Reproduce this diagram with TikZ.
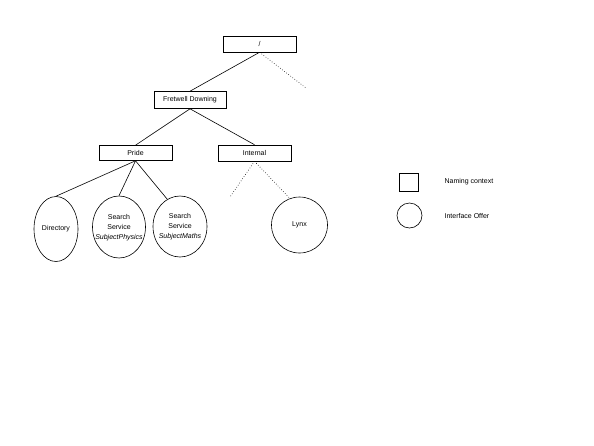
\documentclass[tikz,border=0pt]{standalone}
\usepackage{fontspec}
\setmainfont{Liberation Sans}
\usetikzlibrary{shapes.geometric, positioning}
\tikzstyle{ctx} = [rectangle, minimum width=73pt, minimum height=16pt, text centered, draw=black, font=\fontsize{7}{8}\selectfont]
\tikzstyle{offer} = [ellipse, draw=black, inner sep=0pt, font=\fontsize{7}{10}\selectfont]
\tikzstyle{link} = [line width=0.6pt]
\tikzstyle{hidden} = [line width=0.6pt, dotted]
\tikzstyle{legend} = [inner sep=0pt, anchor=west, font=\fontsize{7}{8}\selectfont]
\newcommand{\offertext}[1]{\makebox[0pt]{\begin{tabular}{@{}c@{}}#1\end{tabular}}}

\begin{document}
\begin{tikzpicture}[x=1pt, y=-1pt, line width=0.6pt]
\useasboundingbox (0,0) rectangle (594,445);
\node (root) [ctx] at (259.5,44) {/};
\node (fd) [ctx, minimum width=72pt, minimum height=17pt] at (190,100) {Fretwell Downing};
\node (pride) [ctx, minimum height=15pt] at (135.5,153) {Pride};
\node (internal) [ctx] at (254.5,153) {Internal};

\node (dir) [offer, minimum width=44pt, minimum height=65pt] at (56,229) {Directory};
\node (phys) [offer, minimum width=53pt, minimum height=62pt] at (119,227) {\offertext{Search\\Service\\\textit{SubjectPhysics}}};
\node (maths) [offer, minimum width=54pt, minimum height=61pt] at (180,226.5) {\offertext{Search\\Service\\\textit{SubjectMaths}}};
\node (lynx) [offer, minimum size=56pt] at (299.5,225) {Lynx};

\coordinate (rootmore) at (306,88);
\coordinate (intmore) at (230,197);

\draw [link] (root.south) -- (fd.north);
\draw [hidden] (root.south) -- (rootmore);
\draw [link] (fd.south) -- (pride.north);
\draw [link] (fd.south) -- (internal.north);
\draw [link] (pride.south) -- (dir.north);
\draw [link] (pride.south) -- (phys.north);
\draw [link] (pride.south) -- (maths.115);
\draw [hidden] (internal.south) -- (intmore);
\draw [hidden] (internal.south) -- (lynx.110);

% legend
\node (sq) [rectangle, draw=black, minimum width=19pt, minimum height=18pt] at (408.5,182) {};
\node (circ) [circle, draw=black, minimum size=25pt, inner sep=0pt] at (409.5,215.5) {};
\node (sqtext) [legend, right=26pt of sq.east] {Naming context};
\node (circtext) [legend, right=22pt of circ.east] {Interface Offer};
\end{tikzpicture}
\end{document}
